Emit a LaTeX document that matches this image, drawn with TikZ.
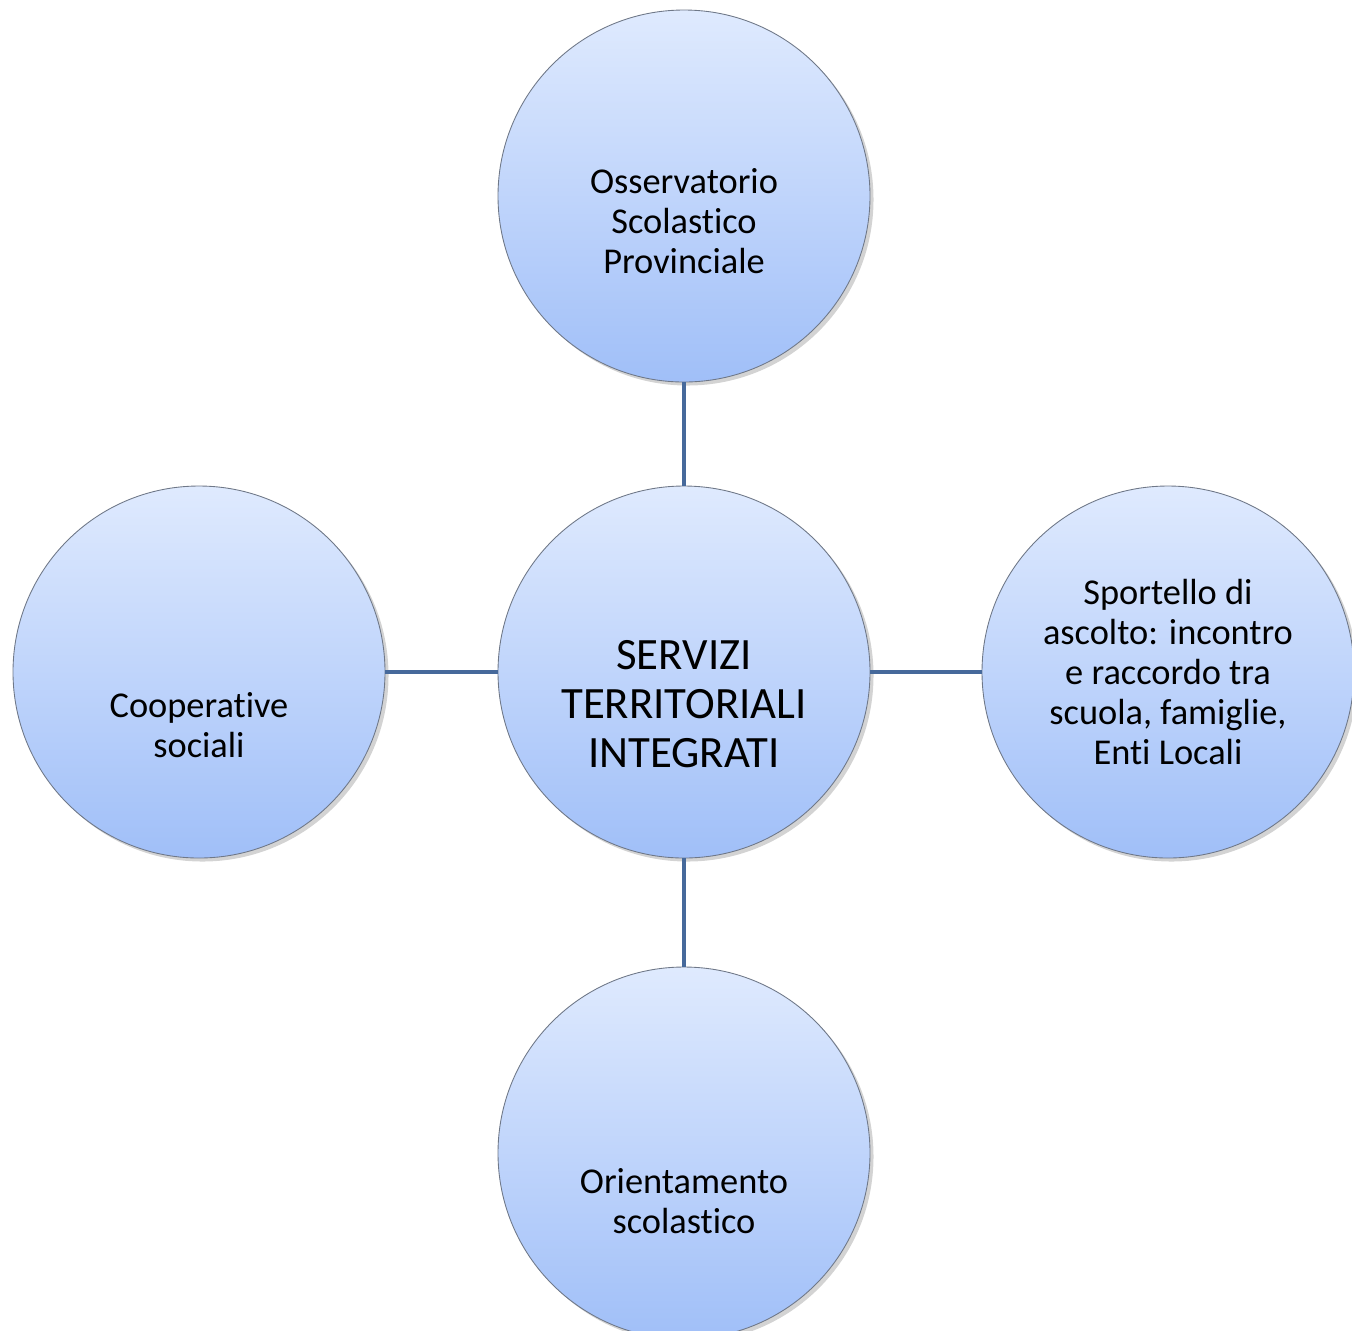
\documentclass[tikz,border=0pt]{standalone}
\usepackage{fontspec}
\setmainfont[Ligatures=NoCommon]{Carlito}
\usepackage{xcolor}
\usepackage{tikz}
\usetikzlibrary{shadows}
\definecolor{bubtop}{HTML}{DFEAFE}
\definecolor{bubbot}{HTML}{A0BFF8}
\definecolor{bubrim}{HTML}{6F7888}
\definecolor{spoke}{HTML}{46699B}
\tikzset{
  bubble/.style = {circle, minimum size=372\px, inner sep=0pt, draw=bubrim,
                   line width=0.5pt, top color=bubtop, bottom color=bubbot,
                   drop shadow={shadow xshift=2pt, shadow yshift=-2pt, opacity=0.35}},
  btext/.style  = {align=center, font=\fontsize{20.7}{22.8}\selectfont},
  ctext/.style  = {align=center, font=\fontsize{25.5}{27.9}\selectfont},
  spokeline/.style = {draw=spoke, line width=2pt},
}
\newcommand{\px}{*0.02cm}
\begin{document}
\begin{tikzpicture}[x=0.02cm, y=-0.02cm]
\useasboundingbox (0,0) rectangle (1352,1330);

% ---------------- the bubbles -----------------------------------------
\node[bubble, label={[ctext, yshift=-32\px]center:SERVIZI\\TERRITORIALI\\INTEGRATI}] (hub) at (684,672) {};
\node[bubble, label={[btext, yshift=-25\px]center:Osservatorio\\Scolastico\\Provinciale}] (oss) at (684,196) {};
\node[bubble, label={[btext, yshift=-53\px]center:Cooperative\\sociali}] (coop) at (199,672) {};
\node[bubble, label={[btext]center:Sportello di\\ascolto: incontro\\e raccordo tra\\scuola, famiglie,\\Enti Locali}] (sport) at (1168,672) {};
\node[bubble, label={[btext, yshift=-48\px]center:Orientamento\\scolastico}] (ori) at (684,1153) {};

% ---------------- spokes ----------------------------------------------
\foreach \j in {oss, coop, sport, ori}
  \draw[spokeline] (hub) -- (\j);

\end{tikzpicture}
\end{document}
